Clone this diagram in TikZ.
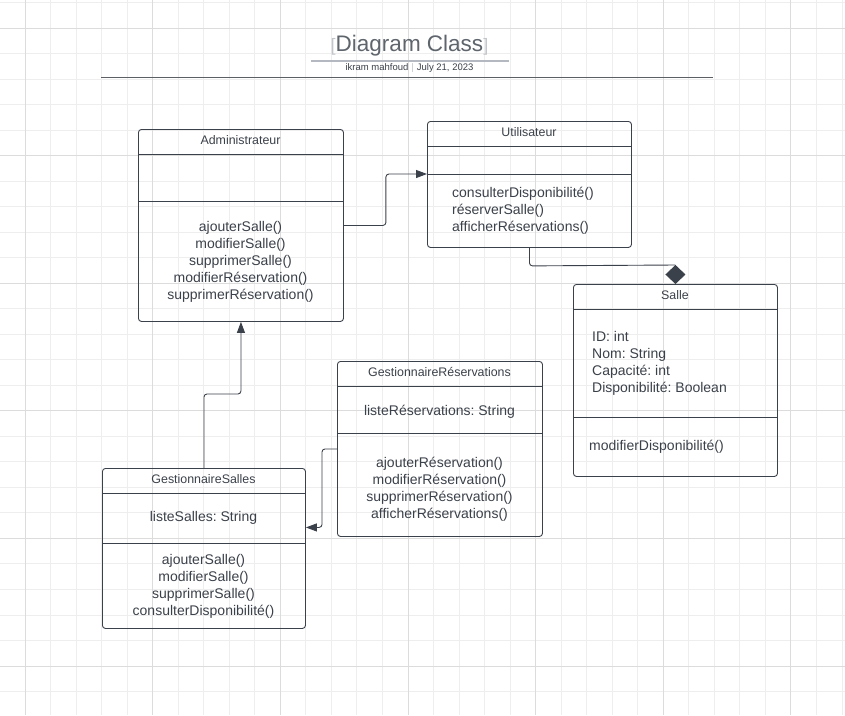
\documentclass[tikz,border=0pt]{standalone}
\usepackage{fontspec}
\setmainfont{Liberation Sans}
\usetikzlibrary{arrows.meta}
\definecolor{ink}{HTML}{3B414A}
\definecolor{gridmin}{HTML}{EEEEEE}
\definecolor{gridmaj}{HTML}{DCDCDC}
\definecolor{titlegray}{HTML}{5F656D}
\definecolor{brk}{HTML}{C2C5CA}
\definecolor{uline}{HTML}{B4B8C0}
\definecolor{hline}{HTML}{5C5F64}
\frenchspacing
\begin{document}
\begin{tikzpicture}[x=1pt,y=-1pt,
  gridminor/.style={draw=gridmin, line width=0.9pt},
  gridmajor/.style={draw=gridmaj, line width=0.9pt},
  cls/.style={draw=ink, line width=0.9pt, rounded corners=3pt, anchor=north west, inner sep=0pt},
  divider/.style={draw=ink, line width=0.9pt},
  ttl/.style={text=ink, font=\fontsize{12.4}{14}\selectfont\frenchspacing, inner sep=0pt},
  body/.style={text=ink, font=\fontsize{14}{17}\selectfont\frenchspacing, inner sep=0pt},
  conn/.style={draw=ink, line width=0.9pt, rounded corners=3pt, -{Triangle[length=11pt,width=8pt]}},
  comp/.style={draw=ink, line width=0.9pt, -{Diamond[length=19pt,width=20pt]}},
]
\useasboundingbox (0,0) rectangle (845,715);
\fill[white] (0,0) rectangle (845,715);
% grid
\foreach \i in {-1,...,32} \draw[gridminor] ({25+25.53*\i},0) -- ({25+25.53*\i},715);
\foreach \j in {-1,...,26} \draw[gridminor] (0,{28+25.52*\j}) -- (845,{28+25.52*\j});
\foreach \i in {0,5,...,30} \draw[gridmajor] ({25+25.53*\i},0) -- ({25+25.53*\i},715);
\foreach \j in {0,5,...,25} \draw[gridmajor] (0,{28+25.52*\j}) -- (845,{28+25.52*\j});

% title block
\node[inner sep=0pt, font=\fontsize{22.5}{26}\selectfont] (title) at (409.5,46)
  {{\color{brk}\fontsize{18}{20}\selectfont[}\color{titlegray}Diagram Class{\color{brk}\fontsize{18}{20}\selectfont]}};
\draw[draw=uline, line width=1.6pt] (311,61) -- (509,61);
\node[inner sep=0pt, text=ink, font=\fontsize{9.5}{11}\selectfont\frenchspacing] (author) at (409.5,68)
  {ikram mahfoud\hspace{3pt}{\color{brk}|}\hspace{3pt}July 21, 2023};
\draw[draw=hline, line width=1pt] (101,77) -- (713,77);

% Administrateur
\node[cls, minimum width=205pt, minimum height=192pt] (admin) at (138,129) {};
\draw[divider] (138,154) -- (343,154);
\draw[divider] (138,201) -- (343,201);
\node[ttl] (adminT) at (240.5,140) {Administrateur};
\node[body, align=center] (adminM) at (240.5,262) {ajouterSalle()\\modifierSalle()\\supprimerSalle()\\modifierRéservation()\\supprimerRéservation()};

% Utilisateur
\node[cls, minimum width=204pt, minimum height=126pt] (util) at (427,121) {};
\draw[divider] (427,146) -- (631,146);
\draw[divider] (427,174) -- (631,174);
\node[ttl] (utilT) at (529,132) {Utilisateur};
\node[body, align=left, anchor=west] (utilM) at (452,211) {consulterDisponibilité()\\réserverSalle()\\afficherRéservations()};

% Salle
\node[cls, minimum width=204pt, minimum height=192pt] (salle) at (573,284) {};
\draw[divider] (573,309) -- (777,309);
\draw[divider] (573,417) -- (777,417);
\node[ttl] (salleT) at (675,295) {Salle};
\node[body, align=left, anchor=west] (salleA) at (592,363) {ID: int\\Nom: String\\Capacité: int\\Disponibilité: Boolean};
\node[body, anchor=west] (salleM) at (589,447) {modifierDisponibilité()};

% GestionnaireReservations
\node[cls, minimum width=205pt, minimum height=175pt] (gr) at (337,361) {};
\draw[divider] (337,386) -- (542,386);
\draw[divider] (337,433) -- (542,433);
\node[ttl] (grT) at (439.5,372) {GestionnaireRéservations};
\node[body] (grA) at (439.5,412) {listeRéservations: String};
\node[body, align=center] (grM) at (439.5,489) {ajouterRéservation()\\modifierRéservation()\\supprimerRéservation()\\afficherRéservations()};

% GestionnaireSalles
\node[cls, minimum width=203pt, minimum height=160pt] (gs) at (102,468) {};
\draw[divider] (102,493) -- (305,493);
\draw[divider] (102,543) -- (305,543);
\node[ttl] (gsT) at (203.5,479) {GestionnaireSalles};
\node[body] (gsA) at (203.5,518) {listeSalles: String};
\node[body, align=center] (gsM) at (203.5,586) {ajouterSalle()\\modifierSalle()\\supprimerSalle()\\consulterDisponibilité()};

% connectors
\draw[conn] (admin.east) -- ++(42,0) |- ([yshift=-53pt]util.north west);
\draw[conn] (gs.north) -- ++(0,-74) -| (admin.south);
\draw[conn] (gr.west) -- ++(-15,0) |- ([yshift=21pt]gs.east);
\draw[draw=ink, line width=0.9pt, rounded corners=3pt] (util.south) -- ++(0,18) -- ([yshift=19pt]salle.north);
\draw[comp] ([yshift=19pt]salle.north) -- (salle.north);
\end{tikzpicture}
\end{document}
